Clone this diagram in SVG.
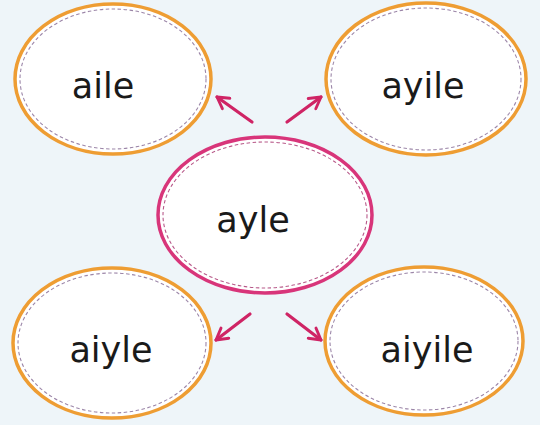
<svg xmlns="http://www.w3.org/2000/svg" width="540" height="425" viewBox="0 0 540 425">
<style>
.o{fill:#fff;stroke:#ee9d33;stroke-width:3.5}
.p{fill:#fff;stroke:#d8357a;stroke-width:3.5}
.d{fill:none;stroke:#9c86a8;stroke-width:1.1;stroke-dasharray:3.5 2.5}
.t{font-family:"DejaVu Sans","Liberation Sans",sans-serif;font-size:35px;fill:#1a1a1a;text-anchor:middle}
.c{stroke:#cf2465;stroke-width:3.2;fill:none;stroke-linecap:round}
</style>
<defs>
<marker id="ah" viewBox="0 0 10 10" refX="8" refY="5" markerWidth="5" markerHeight="5" orient="auto" markerUnits="strokeWidth">
<polyline points="1,1 8,5 1,9" fill="none" stroke="#cf2465" stroke-width="1.8" stroke-linecap="round" stroke-linejoin="round"/>
</marker>
</defs>
<rect width="540" height="425" fill="#eef5f9"/>
<g id="connectors">
<line class="c" x1="252" y1="122" x2="217" y2="97" marker-end="url(#ah)"/>
<line class="c" x1="287" y1="122" x2="321" y2="97" marker-end="url(#ah)"/>
<line class="c" x1="250" y1="314" x2="216" y2="340" marker-end="url(#ah)"/>
<line class="c" x1="287" y1="314" x2="321" y2="340" marker-end="url(#ah)"/>
</g>
<g id="aile">
<ellipse class="o" cx="113" cy="79" rx="98" ry="75"/>
<ellipse class="d" cx="113" cy="79" rx="93" ry="70"/>
<text class="t" x="103" y="98">aile</text>
</g>
<g id="ayile">
<ellipse class="o" cx="426" cy="79" rx="100" ry="76"/>
<ellipse class="d" cx="426" cy="79" rx="95" ry="71"/>
<text class="t" x="423" y="98">ayile</text>
</g>
<g id="ayle">
<ellipse class="p" cx="265" cy="215" rx="107" ry="78"/>
<ellipse class="d" cx="265" cy="215" rx="102" ry="73" style="stroke:#b85a8a"/>
<text class="t" x="253" y="232">ayle</text>
</g>
<g id="aiyle">
<ellipse class="o" cx="112" cy="343" rx="99" ry="75"/>
<ellipse class="d" cx="112" cy="343" rx="94" ry="70"/>
<text class="t" x="111" y="362">aiyle</text>
</g>
<g id="aiyile">
<ellipse class="o" cx="424" cy="341" rx="99" ry="74"/>
<ellipse class="d" cx="424" cy="341" rx="94" ry="69"/>
<text class="t" x="427" y="362">aiyile</text>
</g>
</svg>
